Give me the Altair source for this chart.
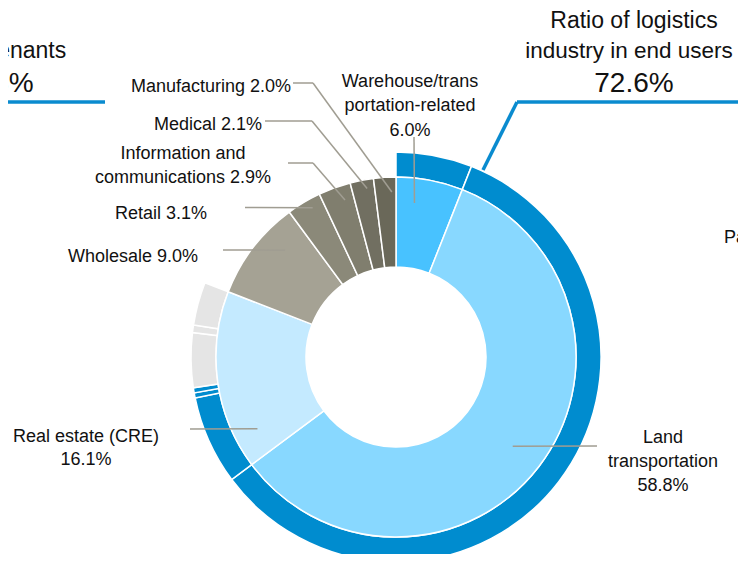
import math
import pandas as pd
import altair as alt

# ---------------- data ----------------
segment_names = [
    "Warehouse/transportation-related",
    "Land transportation",
    "Real estate (CRE)",
    "Wholesale",
    "Retail",
    "Information and communications",
    "Medical",
    "Manufacturing",
]
segment_shares = [6.0, 58.8, 16.1, 9.0, 3.1, 2.9, 2.1, 2.0]

# outer ring: logistics-related share of end users vs. the rest of real estate
outer_kind = ["logistics", "logistics", "logistics", "logistics", "logistics", "other", "other", "other"]
outer_shares = [6.0, 58.8, 7.0, 0.4, 0.4, 4.3, 0.6, 3.4]

headline_lines = ["Ratio of logistics", "industry in end users"]
left_lines = ["in end tenants", "64.8%"]
right_cut_label = "Parcel delivery"

# ---------------- styles / layout ----------------
segment_colors = ["#48C2FF", "#88D8FF", "#C4EAFF", "#A5A294", "#8B8979", "#807E6E", "#716F61", "#6A6859"]
outer_colors = {"logistics": "#008CCF", "other": "#E5E5E5"}
BLUE = "#0A8BCF"
LEADER = "#A09D92"
FONT = "Liberation Sans"

W, H = 730, 546
CX, CY = 388, 349
R_HOLE, R_MID, R_OUT = 90, 180, 205

def polar(pct, r):
    a = pct / 100 * 2 * math.pi
    return CX + r * math.sin(a), CY - r * math.cos(a)

# inner ring table
inner = pd.DataFrame({"name": segment_names, "share": segment_shares})
inner["end"] = inner["share"].cumsum()
inner["start"] = inner["end"] - inner["share"]
inner["fill"] = segment_colors

outer = pd.DataFrame({"kind": outer_kind, "share": outer_shares})
outer["end"] = outer["share"].cumsum()
outer["start"] = outer["end"] - outer["share"]
outer["fill"] = outer["kind"].map(outer_colors)

logistics_total = sum(s for s, k in zip(outer_shares, outer_kind) if k == "logistics")

theta_scale = alt.Scale(domain=[0, 100], range=[0, 2 * math.pi])

def ring(df, r0, r1):
    return alt.Chart(df).mark_arc(
        innerRadius=r0, outerRadius=r1, stroke="white", strokeWidth=1.5
    ).encode(
        theta=alt.Theta("start:Q", scale=theta_scale, stack=None),
        theta2="end:Q",
        color=alt.Color("fill:N", scale=None, legend=None),
        x=alt.value(CX),
        y=alt.value(CY),
    )

inner_ring = ring(inner, R_HOLE, R_MID)
outer_ring = ring(outer, R_MID, R_OUT)

# leader lines: (segment index, start point, elbow x or None, target pct, target radius)
leader_spec = [
    (0, (406, 129), None, 1.9, 155),
    (1, (589, 438), None, 35.4, 147),
    (2, (182, 421), None, 67.4, 156),
    (3, (215, 242), None, 87.2, 154),
    (4, (237, 199.5), None, 91.9, 171),
    (5, (280, 155), 305, 95.0, 165),
    (6, (257, 113), 304, 97.3, 171),
    (7, (285, 75), 305, 99.6, 165),
]
segs = []
for idx, (sx, sy), ex, pct, r in leader_spec:
    tx, ty = polar(pct, r)
    if ex is not None:
        segs.append({"x": sx, "y": sy, "x2": ex, "y2": sy})
        segs.append({"x": ex, "y": sy, "x2": tx, "y2": ty})
    else:
        segs.append({"x": sx, "y": sy, "x2": tx, "y2": ty})
leaders = alt.Chart(pd.DataFrame(segs)).mark_rule(color=LEADER, strokeWidth=1.5).encode(
    x=alt.X("x:Q", scale=None, axis=None),
    y=alt.Y("y:Q", scale=None, axis=None),
    x2="x2:Q",
    y2="y2:Q",
)

# callout lines in blue
blue_segs = pd.DataFrame([
    {"x": -10, "y": 94, "x2": 97, "y2": 94},
    {"x": 475, "y": 162, "x2": 509, "y2": 94},
    {"x": 509, "y": 94, "x2": 740, "y2": 94},
])
blue = alt.Chart(blue_segs).mark_rule(color=BLUE, strokeWidth=3.5).encode(
    x=alt.X("x:Q", scale=None, axis=None),
    y=alt.Y("y:Q", scale=None, axis=None),
    x2="x2:Q",
    y2="y2:Q",
)

def pct_txt(i):
    return f"{segment_shares[i]:.1f}%"

center_rows = [
    {"x": 402, "y": 79, "t": "Warehouse/trans", "s": 18},
    {"x": 402, "y": 103, "t": "portation-related", "s": 18},
    {"x": 402, "y": 128, "t": pct_txt(0), "s": 18},
    {"x": 655, "y": 435, "t": "Land", "s": 18},
    {"x": 655, "y": 459, "t": "transportation", "s": 18},
    {"x": 655, "y": 483, "t": pct_txt(1), "s": 18},
    {"x": 78, "y": 434, "t": segment_names[2], "s": 18},
    {"x": 78, "y": 457, "t": pct_txt(2), "s": 18},
    {"x": 175, "y": 151, "t": "Information and", "s": 18},
    {"x": 175, "y": 175, "t": "communications " + pct_txt(5), "s": 18},
    {"x": 626, "y": 20, "t": headline_lines[0], "s": 23},
    {"x": 621, "y": 50, "t": headline_lines[1], "s": 22.5},
    {"x": 626, "y": 84, "t": f"{logistics_total:.1f}%", "s": 28},
    {"x": -14, "y": 50, "t": left_lines[0], "s": 23},
    {"x": -14, "y": 84, "t": left_lines[1], "s": 28},
]
right_rows = [
    {"x": 283, "y": 84, "t": segment_names[7] + " " + pct_txt(7), "s": 18},
    {"x": 254, "y": 122, "t": segment_names[6] + " " + pct_txt(6), "s": 18},
    {"x": 199, "y": 211, "t": segment_names[4] + " " + pct_txt(4), "s": 18},
    {"x": 190, "y": 254, "t": segment_names[3] + " " + pct_txt(3), "s": 18},
]
left_rows = [
    {"x": 716, "y": 235, "t": right_cut_label, "s": 18},
]

def text_layer(rows, align):
    return alt.Chart(pd.DataFrame(rows)).mark_text(
        align=align, baseline="alphabetic", font=FONT, color="#111111"
    ).encode(
        x=alt.X("x:Q", scale=None, axis=None),
        y=alt.Y("y:Q", scale=None, axis=None),
        text="t:N",
        size=alt.Size("s:Q", scale=None, legend=None),
    )

chart = alt.layer(
    outer_ring,
    inner_ring,
    leaders,
    blue,
    text_layer(center_rows, "center"),
    text_layer(right_rows, "right"),
    text_layer(left_rows, "left"),
).properties(
    width=W,
    height=H,
    autosize=alt.AutoSizeParams(type="none"),
    padding=0,
).configure_view(stroke=None)

chart.save("out.html", embed_options={"renderer": "svg", "actions": False})
